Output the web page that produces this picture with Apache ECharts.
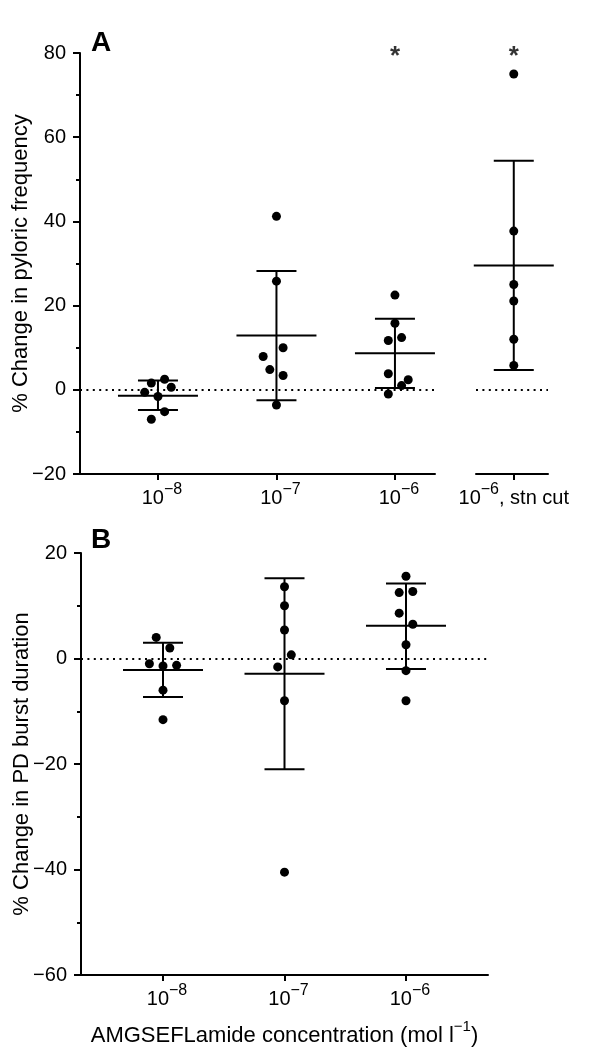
<!DOCTYPE html>
<html>
<head>
<meta charset="utf-8">
<script src="https://cdn.jsdelivr.net/npm/echarts@6/dist/echarts.min.js"></script>
<style>
  html, body { margin: 0; padding: 0; background: #fff; }
  #chart { width: 604px; height: 1053px; }
</style>
</head>
<body>
<div id="chart"></div>
<script>
// ---- Panel A: % change in pyloric frequency ----
const expA = ['−8', '−7', '−6'];
const stnExp = '−6';
const stnSuffix = ', stn cut';
const pointsA = [
  [1.6, 2.5, -0.6, 0.6, -1.6, -5.2, -7.0],
  [41.2, 25.8, 7.9, 10.0, 4.8, 3.4, -3.6],
  [22.5, 15.8, 11.7, 12.4, 3.8, 2.4, 1.0, -1.0]
];
// horizontal jitter of each dot, in dot-steps
const jitterA = [
  [-1, 1, -2, 2, 0, 1, -1],
  [0, 0, -2, 1, -1, 1, 0],
  [0, 0, -1, 1, -1, 2, 1, -1]
];
const meanA = [-1.4, 12.9, 8.7];
const lowA = [-4.8, -2.5, 0.4];
const highA = [2.2, 28.2, 16.9];

const pointsStn = [75.0, 37.7, 25.0, 21.1, 12.0, 5.8];
const meanStn = [29.5];
const lowStn = [4.7];
const highStn = [54.4];

// asterisks (significant groups)
const sigA = [3];
const sigStn = [4];
const sigY = 80;

// ---- Panel B: % change in PD burst duration ----
const expB = ['−8', '−7', '−6'];
const pointsB = [
  [4.0, 2.0, -1.0, -1.4, -1.3, -6.0, -11.6],
  [13.6, 10.0, 5.4, 0.7, -1.6, -8.0, -40.5],
  [15.6, 12.5, 12.7, 8.6, 6.5, 2.6, -2.3, -8.0]
];
const jitterB = [
  [-1, 1, -2, 0, 2, 0, 0],
  [0, 0, 0, 1, -1, 0, 0],
  [0, -1, 1, -1, 1, 0, 0, 0]
];
const meanB = [-2.2, -2.9, 6.2];
const lowB = [-7.3, -21.0, -2.0];
const highB = [3.0, 15.2, 14.2];

const FONT = 'Liberation Sans, Arial, sans-serif';
const STEP = 0.056;
const BLACK = '#000';

function dots(groups, jitter, start) {
  const out = [];
  groups.forEach((vals, g) => {
    vals.forEach((v, i) => out.push([start + g + jitter[g][i] * STEP, v]));
  });
  return out;
}
function bars(means, lows, highs, start) {
  return means.map((m, i) => [start + i, m, lows[i], highs[i]]);
}

// mean line + SD whiskers with caps
function errorBarItem(params, api) {
  const x = api.value(0);
  const c = api.coord([x, api.value(1)]);
  const lo = api.coord([x, api.value(2)]);
  const hi = api.coord([x, api.value(3)]);
  const st = () => ({ stroke: BLACK, lineWidth: 2 });
  return {
    type: 'group',
    children: [
      { type: 'line', shape: { x1: c[0] - 40, y1: c[1], x2: c[0] + 40, y2: c[1] }, style: st() },
      { type: 'line', shape: { x1: lo[0], y1: lo[1], x2: hi[0], y2: hi[1] }, style: st() },
      { type: 'line', shape: { x1: lo[0] - 20, y1: lo[1], x2: lo[0] + 20, y2: lo[1] }, style: st() },
      { type: 'line', shape: { x1: hi[0] - 20, y1: hi[1], x2: hi[0] + 20, y2: hi[1] }, style: st() }
    ]
  };
}

const lineSt = { color: BLACK, width: 2 };
const rich = {
  b: { fontSize: 20, fontFamily: FONT, color: BLACK, lineHeight: 26, verticalAlign: 'bottom' },
  s: { fontSize: 16, fontFamily: FONT, color: BLACK, lineHeight: 22, verticalAlign: 'top' }
};
const minus = v => String(v).replace('-', '−');

function yAxis(grid, min, max, name, show) {
  return {
    gridIndex: grid, type: 'value', min: min, max: max, interval: 20, show: show,
    axisLine: { show: true, onZero: false, lineStyle: lineSt },
    axisTick: { show: true, length: 7, lineStyle: lineSt },
    minorTick: { show: true, splitNumber: 2, length: 4, lineStyle: lineSt },
    splitLine: { show: false },
    axisLabel: { color: BLACK, fontSize: 20, fontFamily: FONT, margin: 14, formatter: minus },
    name: name, nameLocation: 'middle', nameGap: 48, nameMoveOverlap: false,
    nameTextStyle: { color: BLACK, fontSize: 22, fontFamily: FONT }
  };
}
function xAxis(grid, min, max, ticks, fmt, pad, extra) {
  return Object.assign({
    gridIndex: grid, type: 'value', min: min, max: max,
    axisLine: { show: true, onZero: false, lineStyle: lineSt },
    axisTick: { show: true, length: 6, customValues: ticks, lineStyle: lineSt },
    splitLine: { show: false },
    axisLabel: { customValues: ticks, margin: 8, formatter: fmt, rich: rich, padding: [0, 0, 0, pad] }
  }, extra || {});
}

const zeroLine = {
  silent: true, symbol: 'none', label: { show: false },
  lineStyle: { color: BLACK, width: 2, type: [2, 4.4] },
  data: [{ yAxis: 0 }]
};
const dotStyle = { color: BLACK, opacity: 1 };

function scatter(idx, data) {
  return {
    type: 'scatter', xAxisIndex: idx, yAxisIndex: idx, data: data,
    symbol: 'circle', symbolSize: 9, itemStyle: dotStyle, z: 5,
    markLine: zeroLine
  };
}
function errSeries(idx, data) {
  return {
    type: 'custom', xAxisIndex: idx, yAxisIndex: idx, data: data,
    renderItem: errorBarItem, z: 3
  };
}
function stars(idx, xs) {
  return {
    type: 'scatter', xAxisIndex: idx, yAxisIndex: idx, symbolSize: 0,
    data: xs.map(x => [x, sigY]),
    label: { show: true, position: 'inside', formatter: '*', offset: [0, 4],
      color: BLACK, fontSize: 26, fontWeight: 'bold', fontFamily: FONT }
  };
}

const chart = echarts.init(document.getElementById('chart'), null, { renderer: 'canvas' });
chart.setOption({
  animation: false,
  backgroundColor: '#fff',
  grid: [
    { left: 80, top: 53, width: 355, height: 421, outerBoundsMode: 'none' },
    { left: 476, top: 53, width: 72, height: 421, outerBoundsMode: 'none' },
    { left: 81, top: 553, width: 407, height: 422, outerBoundsMode: 'none' }
  ],
  xAxis: [
    xAxis(0, 0.342, 3.338, [1, 2, 3], v => '{b|10}{s|' + expA[Math.round(v) - 1] + '}', 8),
    xAxis(1, 3.68, 4.29, [4], () => '{b|10}{s|' + stnExp + '}{b|' + stnSuffix + '}', 0),
    xAxis(2, 0.325, 3.675, [1, 2, 3], v => '{b|10}{s|' + expB[Math.round(v) - 1] + '}', 8, {
      name: '{b|AMGSEFLamide concentration (mol l}{s|−1}{b|)}',
      nameLocation: 'middle', nameGap: 44,
      nameTextStyle: { rich: {
        b: { fontSize: 22, fontFamily: FONT, color: BLACK, lineHeight: 28, verticalAlign: 'bottom' },
        s: { fontSize: 15, fontFamily: FONT, color: BLACK, lineHeight: 24, verticalAlign: 'top' }
      }, fontSize: 22, fontFamily: FONT, color: BLACK }
    })
  ],
  yAxis: [
    yAxis(0, -20, 80, '% Change in pyloric frequency', true),
    yAxis(1, -20, 80, '', false),
    yAxis(2, -60, 20, '% Change in PD burst duration', true)
  ],
  graphic: [
    { type: 'text', left: 91, top: 29, style: { text: 'A', fontSize: 28, fontWeight: 'bold', fontFamily: FONT, fill: BLACK } },
    { type: 'text', left: 91, top: 526, style: { text: 'B', fontSize: 28, fontWeight: 'bold', fontFamily: FONT, fill: BLACK } }
  ],
  series: [
    errSeries(0, bars(meanA, lowA, highA, 1)),
    scatter(0, dots(pointsA, jitterA, 1)),
    stars(0, sigA),
    errSeries(1, bars(meanStn, lowStn, highStn, 4)),
    scatter(1, pointsStn.map(v => [4, v])),
    stars(1, sigStn),
    errSeries(2, bars(meanB, lowB, highB, 1)),
    scatter(2, dots(pointsB, jitterB, 1))
  ]
});
</script>
</body>
</html>
